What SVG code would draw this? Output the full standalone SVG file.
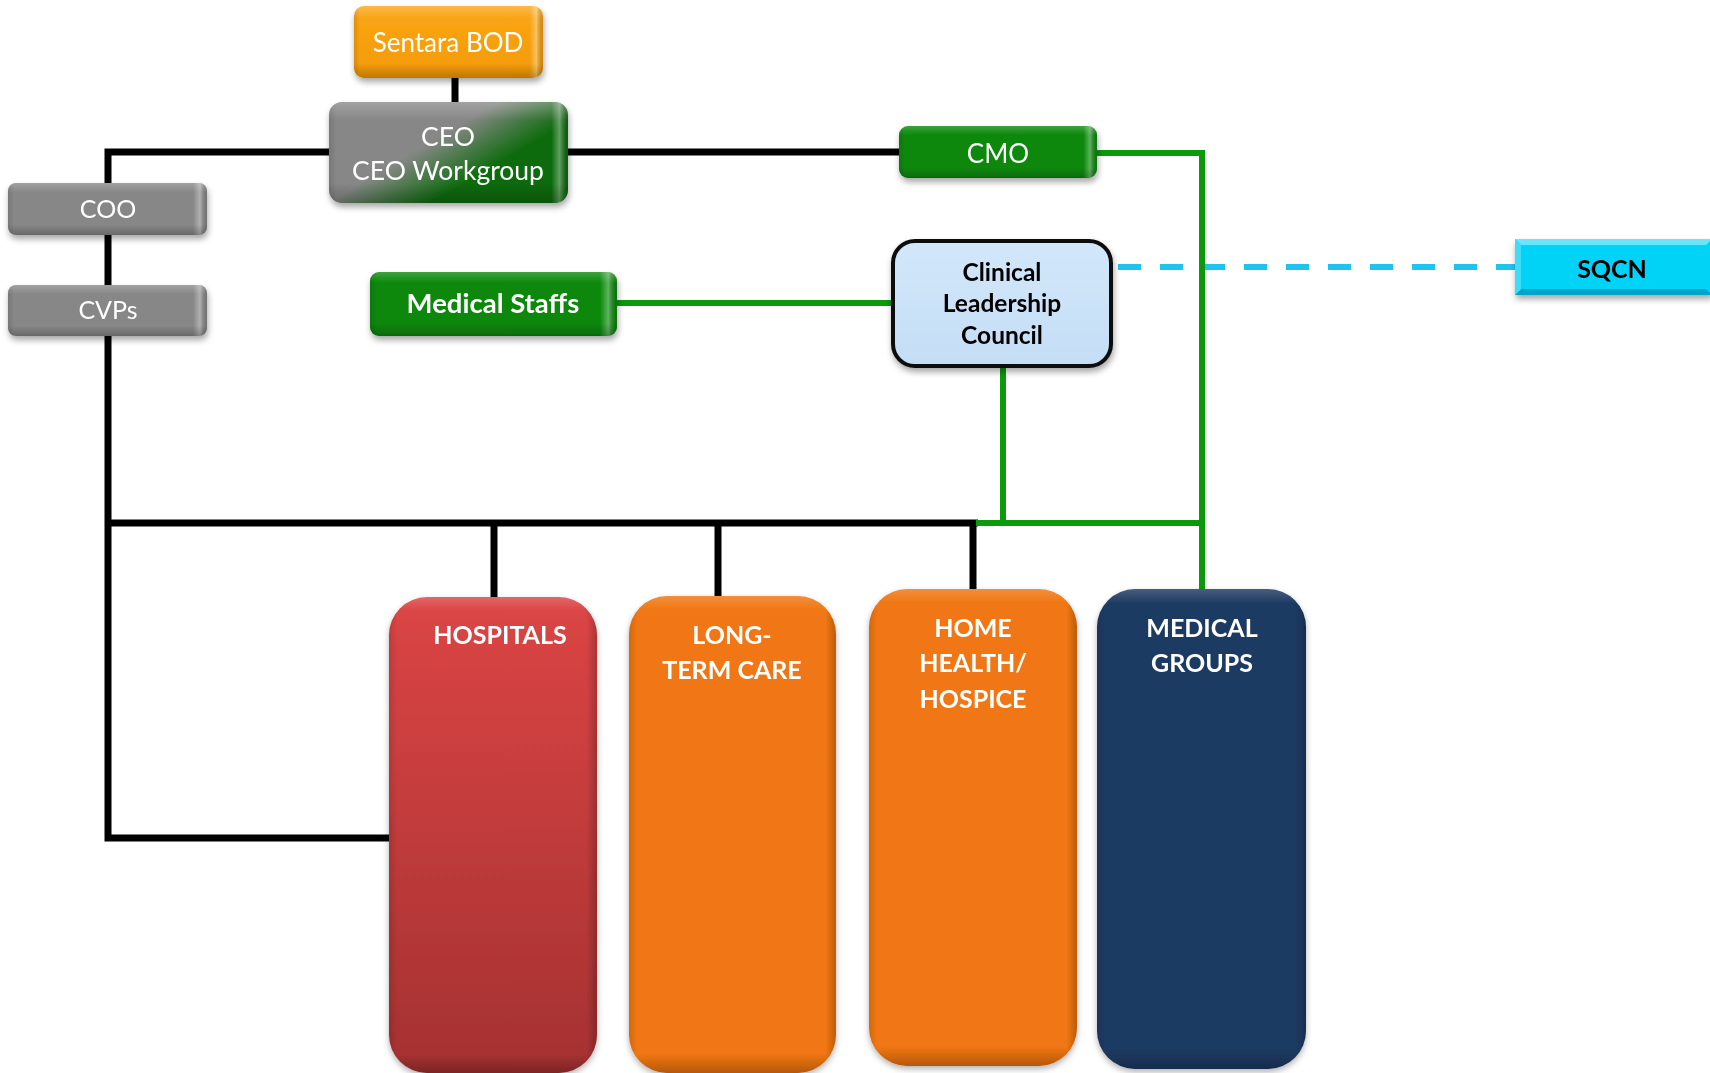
<svg xmlns="http://www.w3.org/2000/svg" width="1710" height="1073" viewBox="0 0 1710 1073">
  <defs>
    <filter id="shadow" x="-10%" y="-15%" width="125%" height="150%">
      <feDropShadow dx="1" dy="4" stdDeviation="3" flood-color="#000" flood-opacity="0.35"/>
    </filter>
    <filter id="shadowBig" x="-10%" y="-5%" width="125%" height="115%">
      <feDropShadow dx="0" dy="3" stdDeviation="3" flood-color="#000" flood-opacity="0.3"/>
    </filter>
    <!-- soft top highlight / bottom shade for the small buttons -->
    <linearGradient id="glossV" x1="0" y1="0" x2="0" y2="1">
      <stop offset="0" stop-color="#fff" stop-opacity="0.22"/>
      <stop offset="0.18" stop-color="#fff" stop-opacity="0"/>
      <stop offset="0.8" stop-color="#000" stop-opacity="0"/>
      <stop offset="1" stop-color="#000" stop-opacity="0.22"/>
    </linearGradient>
    <!-- light band along the right end of the buttons -->
    <linearGradient id="edgeR" x1="0" y1="0" x2="1" y2="0">
      <stop offset="0" stop-color="#000" stop-opacity="0.12"/>
      <stop offset="0.03" stop-color="#000" stop-opacity="0"/>
      <stop offset="0.93" stop-color="#fff" stop-opacity="0"/>
      <stop offset="0.965" stop-color="#fff" stop-opacity="0.35"/>
      <stop offset="1" stop-color="#000" stop-opacity="0.15"/>
    </linearGradient>
    <!-- edge shading of the tall division boxes -->
    <linearGradient id="bigEdgeH" x1="0" y1="0" x2="1" y2="0">
      <stop offset="0" stop-color="#000" stop-opacity="0.12"/>
      <stop offset="0.04" stop-color="#000" stop-opacity="0"/>
      <stop offset="0.95" stop-color="#000" stop-opacity="0"/>
      <stop offset="1" stop-color="#000" stop-opacity="0.22"/>
    </linearGradient>
    <linearGradient id="bigEdgeV" x1="0" y1="0" x2="0" y2="1">
      <stop offset="0" stop-color="#fff" stop-opacity="0.18"/>
      <stop offset="0.03" stop-color="#fff" stop-opacity="0"/>
      <stop offset="0.96" stop-color="#000" stop-opacity="0"/>
      <stop offset="1" stop-color="#000" stop-opacity="0.25"/>
    </linearGradient>
    <linearGradient id="gradBOD" x1="0" y1="0" x2="0" y2="1">
      <stop offset="0" stop-color="#fba616"/>
      <stop offset="1" stop-color="#f39a05"/>
    </linearGradient>
    <!-- grey top-left fading into dark green bottom-right -->
    <linearGradient id="gradCEO" gradientUnits="userSpaceOnUse" x1="438" y1="137" x2="466" y2="184">
      <stop offset="0" stop-color="#878787"/>
      <stop offset="1" stop-color="#0b6b0b"/>
    </linearGradient>
    <linearGradient id="gradCLC" x1="0" y1="0" x2="0" y2="1">
      <stop offset="0" stop-color="#d2e7fa"/>
      <stop offset="1" stop-color="#c4def6"/>
    </linearGradient>
    <linearGradient id="gradHosp" x1="0" y1="0" x2="0" y2="1">
      <stop offset="0" stop-color="#dc4545"/>
      <stop offset="1" stop-color="#a53131"/>
    </linearGradient>
    <style>
      .t { font-family: Lato, "Liberation Sans", sans-serif; text-anchor: middle; }
      .w { fill: #ffffff; }
      .k { fill: #000000; }
      .b { font-weight: bold; }
      .blk { fill: none; stroke: #000; stroke-width: 7; stroke-linejoin: miter; stroke-linecap: butt; }
      .grn { fill: none; stroke: #0a9a0a; stroke-width: 6; stroke-linejoin: miter; stroke-linecap: butt; }
      .dash { fill: none; stroke: #1ec3ef; stroke-width: 6; stroke-dasharray: 23 19; }
      .gray { fill: #878787; }
      .green { fill: #088808; }
      .orange { fill: #f07612; }
      .navy { fill: #1e3a62; }
    </style>
  </defs>

  <rect width="1710" height="1073" fill="#ffffff"/>

  <!-- connectors -->
  <g id="connectors">
    <path class="blk" d="M455,76 V104"/>
    <path class="blk" d="M331,152 H108 V838 H391"/>
    <path class="blk" d="M566,152 H901"/>
    <path class="blk" d="M108,523 H978"/>
    <path class="blk" d="M494,523 V599"/>
    <path class="blk" d="M718,523 V598"/>
    <path class="blk" d="M973,523 V591"/>
    <path class="dash" d="M1118,267 H1516"/>
    <path class="grn" d="M615,303 H894"/>
    <path class="grn" d="M1003,365 V523"/>
    <path class="grn" d="M976,523 H1202"/>
    <path class="grn" d="M1095,153 H1202 V591"/>
  </g>

  <!-- top row -->
  <g id="sentara-bod" filter="url(#shadow)">
    <rect x="354" y="6" width="189" height="72" rx="10" fill="url(#gradBOD)"/>
    <rect x="354" y="6" width="189" height="72" rx="10" fill="url(#edgeR)"/>
    <rect x="354" y="6" width="189" height="72" rx="10" fill="url(#glossV)"/>
    <text class="t w" x="448" y="52" font-size="26">Sentara BOD</text>
  </g>

  <g id="ceo" filter="url(#shadow)">
    <rect x="329" y="102" width="239" height="101" rx="13" fill="url(#gradCEO)"/>
    <rect x="329" y="102" width="239" height="101" rx="13" fill="url(#edgeR)"/>
    <rect x="329" y="102" width="239" height="101" rx="13" fill="url(#glossV)"/>
    <text class="t w" x="448" y="146" font-size="26.5">CEO</text>
    <text class="t w" x="448" y="180" font-size="26.5">CEO Workgroup</text>
  </g>

  <g id="cmo" filter="url(#shadow)">
    <rect class="green" x="899" y="126" width="198" height="52" rx="9"/>
    <rect x="899" y="126" width="198" height="52" rx="9" fill="url(#edgeR)"/>
    <rect x="899" y="126" width="198" height="52" rx="9" fill="url(#glossV)"/>
    <text class="t w" x="998" y="163" font-size="26">CMO</text>
  </g>

  <g id="coo" filter="url(#shadow)">
    <rect class="gray" x="8" y="183" width="199" height="52" rx="8"/>
    <rect x="8" y="183" width="199" height="52" rx="8" fill="url(#edgeR)"/>
    <rect x="8" y="183" width="199" height="52" rx="8" fill="url(#glossV)"/>
    <text class="t w" x="108" y="218" font-size="25">COO</text>
  </g>

  <g id="cvps" filter="url(#shadow)">
    <rect class="gray" x="8" y="285" width="199" height="51" rx="8"/>
    <rect x="8" y="285" width="199" height="51" rx="8" fill="url(#edgeR)"/>
    <rect x="8" y="285" width="199" height="51" rx="8" fill="url(#glossV)"/>
    <text class="t w" x="108" y="319" font-size="25">CVPs</text>
  </g>

  <g id="medical-staffs" filter="url(#shadow)">
    <rect class="green" x="370" y="272" width="247" height="64" rx="9"/>
    <rect x="370" y="272" width="247" height="64" rx="9" fill="url(#edgeR)"/>
    <rect x="370" y="272" width="247" height="64" rx="9" fill="url(#glossV)"/>
    <text class="t w b" x="493" y="313" font-size="27.5">Medical Staffs</text>
  </g>

  <g id="clinical-leadership-council" filter="url(#shadow)">
    <rect x="893" y="241" width="218" height="125" rx="22" fill="url(#gradCLC)" stroke="#111" stroke-width="4"/>
    <text class="t k b" x="1002" y="281" font-size="24.5">Clinical</text>
    <text class="t k b" x="1002" y="312" font-size="24.5">Leadership</text>
    <text class="t k b" x="1002" y="344" font-size="24.5">Council</text>
  </g>

  <g id="sqcn" filter="url(#shadow)">
    <rect x="1515" y="239" width="197" height="56" fill="#05d3f6"/>
    <polygon points="1515,239 1712,239 1706,245 1521,245" fill="#6ae6fb"/>
    <polygon points="1515,295 1712,295 1706,289 1521,289" fill="#00a6c9"/>
    <polygon points="1515,239 1521,245 1521,289 1515,295" fill="#3cdcf8"/>
    <text class="t k b" x="1612" y="278" font-size="25">SQCN</text>
  </g>

  <!-- divisions -->
  <g id="hospitals" filter="url(#shadowBig)">
    <rect x="389" y="597" width="208" height="476" rx="38" fill="url(#gradHosp)"/>
    <rect x="389" y="597" width="208" height="476" rx="38" fill="url(#bigEdgeH)"/>
    <rect x="389" y="597" width="208" height="476" rx="38" fill="url(#bigEdgeV)"/>
    <text class="t w b" x="500" y="644" font-size="25">HOSPITALS</text>
  </g>

  <g id="long-term-care" filter="url(#shadowBig)">
    <rect class="orange" x="629" y="596" width="207" height="477" rx="38"/>
    <rect x="629" y="596" width="207" height="477" rx="38" fill="url(#bigEdgeH)"/>
    <rect x="629" y="596" width="207" height="477" rx="38" fill="url(#bigEdgeV)"/>
    <text class="t w b" x="732" y="644" font-size="25">LONG-</text>
    <text class="t w b" x="732" y="679" font-size="25">TERM CARE</text>
  </g>

  <g id="home-health-hospice" filter="url(#shadowBig)">
    <rect class="orange" x="869" y="589" width="208" height="477" rx="38"/>
    <rect x="869" y="589" width="208" height="477" rx="38" fill="url(#bigEdgeH)"/>
    <rect x="869" y="589" width="208" height="477" rx="38" fill="url(#bigEdgeV)"/>
    <text class="t w b" x="973" y="637" font-size="25">HOME</text>
    <text class="t w b" x="973" y="672" font-size="25">HEALTH/</text>
    <text class="t w b" x="973" y="708" font-size="25">HOSPICE</text>
  </g>

  <g id="medical-groups" filter="url(#shadowBig)">
    <rect class="navy" x="1097" y="589" width="209" height="480" rx="38"/>
    <rect x="1097" y="589" width="209" height="480" rx="38" fill="url(#bigEdgeH)"/>
    <rect x="1097" y="589" width="209" height="480" rx="38" fill="url(#bigEdgeV)"/>
    <text class="t w b" x="1202" y="637" font-size="25">MEDICAL</text>
    <text class="t w b" x="1202" y="672" font-size="25">GROUPS</text>
  </g>
</svg>
